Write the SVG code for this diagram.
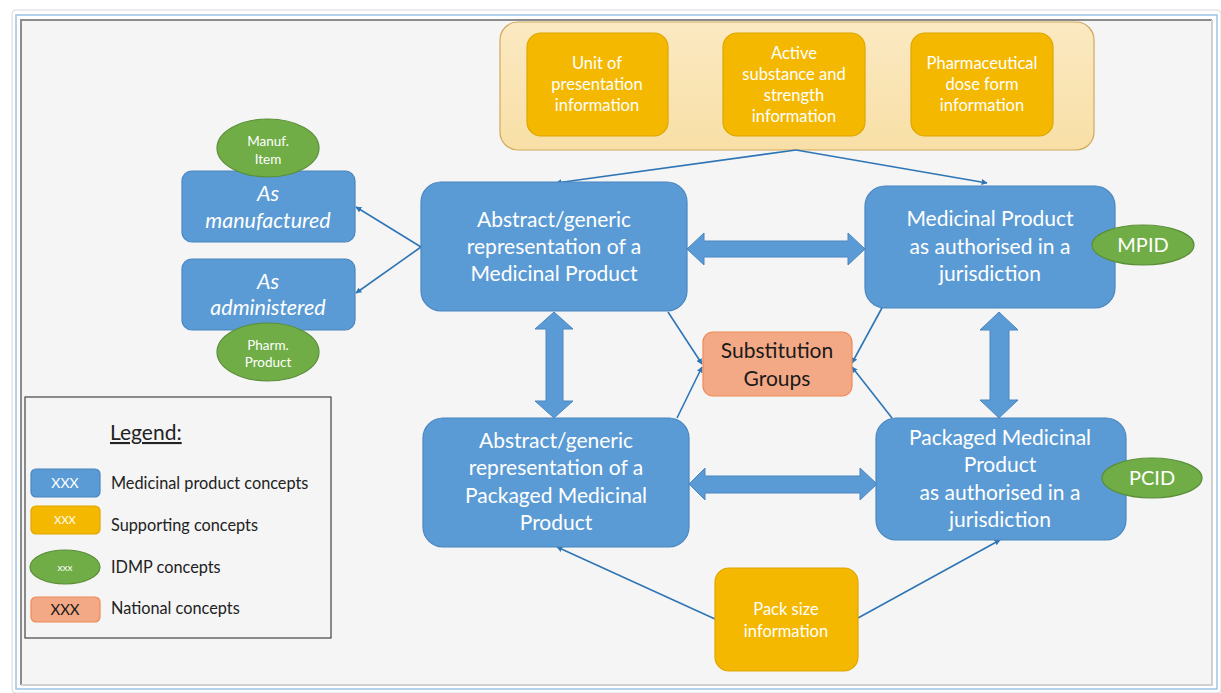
<svg xmlns="http://www.w3.org/2000/svg" width="1221" height="693" viewBox="0 0 1221 693">
<style>
text{font-family:Lato,"Open Sans","Liberation Sans",sans-serif;text-anchor:middle;fill:#fff}
.blue{fill:#5b9bd5;stroke:#4a86c0;stroke-width:1.2}
.yel{fill:#f5b800;stroke:#dea600;stroke-width:1.2}
.grn{fill:#70ad47;stroke:#5a8f38;stroke-width:1.2}
.sal{fill:#f4a986;stroke:#ee8a55;stroke-width:1.2}
.big{font-size:21px}
.it{font-size:21.5px;font-style:italic}
.mid{font-size:16.5px}
.sm{font-size:13.5px}
.conn{stroke:#2e75b6;stroke-width:1.6;fill:none;marker-end:url(#ah)}
.blk{fill:#5b9bd5;stroke:#4a86c0;stroke-width:1}
.lg{fill:#222;text-anchor:start;font-size:16.3px}
</style>
<defs>
<marker id="ah" viewBox="0 0 10 10" refX="9" refY="5" markerWidth="6" markerHeight="6" markerUnits="userSpaceOnUse" orient="auto">
<path d="M0,0 L10,5 L0,10 z" fill="#2e75b6"/>
</marker>
<linearGradient id="tan" x1="0" y1="0" x2="0" y2="1">
<stop offset="0" stop-color="#fbe9c2"/>
<stop offset="1" stop-color="#f8dfa6"/>
</linearGradient>
</defs>
<g id="frame">
<rect x="0" y="0" width="1221" height="693" fill="#ffffff"/>
<rect x="12" y="10" width="1209" height="683" rx="4" fill="#ffffff" stroke="#d8d8d8" stroke-width="1"/>
<rect x="16" y="15" width="1201" height="674" fill="none" stroke="#9dc3e6" stroke-width="1.5"/>
<rect x="21" y="20" width="1191" height="665" fill="#f5f5f5"/>
<path d="M21,685 L21,20 L1212,20" fill="none" stroke="#8c8c8c" stroke-width="2"/>
<path d="M1212,20 L1212,685 L21,685" fill="none" stroke="#d0d0d0" stroke-width="2"/>
</g>
<g id="supporting-group">
<rect x="500" y="22" width="594" height="128" rx="18" fill="url(#tan)" stroke="#cfa95c" stroke-width="1.2"/>
</g>
<g id="unit-of-presentation">
<rect class="yel" x="527" y="33" width="141" height="103" rx="14"/>
<text class="mid" x="597" y="69">Unit of</text>
<text class="mid" x="597" y="90">presentation</text>
<text class="mid" x="597" y="111">information</text>
</g>
<g id="active-substance">
<rect class="yel" x="723" y="33" width="142" height="103" rx="14"/>
<text class="mid" x="794" y="59">Active</text>
<text class="mid" x="794" y="80">substance and</text>
<text class="mid" x="794" y="101">strength</text>
<text class="mid" x="794" y="122">information</text>
</g>
<g id="dose-form">
<rect class="yel" x="911" y="33" width="142" height="103" rx="14"/>
<text class="mid" x="982" y="69">Pharmaceutical</text>
<text class="mid" x="982" y="90">dose form</text>
<text class="mid" x="982" y="111">information</text>
</g>
<g id="connectors">
<line class="conn" x1="796" y1="150" x2="556" y2="183"/>
<line class="conn" x1="796" y1="150" x2="987" y2="183"/>
<line class="conn" x1="421" y1="247" x2="356" y2="207"/>
<line class="conn" x1="421" y1="247" x2="356" y2="293"/>
<line class="conn" x1="668" y1="312" x2="702" y2="364"/>
<line class="conn" x1="677" y1="418" x2="702" y2="367"/>
<line class="conn" x1="883" y1="306" x2="852" y2="363"/>
<line class="conn" x1="892" y1="418" x2="852" y2="367"/>
<line class="conn" x1="715" y1="619" x2="557" y2="547"/>
<line class="conn" x1="858" y1="618" x2="1000" y2="540"/>
<path class="blk" d="M687,249 L704,233 L704,241 L848,241 L848,233 L865,249 L848,265 L848,257 L704,257 L704,265 Z"/>
<path class="blk" d="M689,484 L705,468 L705,476 L860,476 L860,468 L877,484 L860,500 L860,493 L705,493 L705,500 Z"/>
<path class="blk" d="M554,312 L573,329 L563,329 L563,401 L573,401 L554,418 L535,401 L546,401 L546,329 L535,329 Z"/>
<path class="blk" d="M999,312 L1018,330 L1009,330 L1009,400 L1018,400 L999,418 L980,400 L990,400 L990,330 L980,330 Z"/>
</g>
<g id="as-manufactured">
<rect class="blue" x="182" y="171" width="173" height="71" rx="10"/>
<text class="it" x="268" y="201">As</text>
<text class="it" x="268" y="228">manufactured</text>
</g>
<g id="manuf-item">
<ellipse class="grn" cx="268" cy="148" rx="51" ry="29"/>
<text class="sm" x="268" y="146">Manuf.</text>
<text class="sm" x="268" y="164">Item</text>
</g>
<g id="as-administered">
<rect class="blue" x="182" y="259" width="173" height="71" rx="10"/>
<text class="it" x="268" y="289">As</text>
<text class="it" x="268" y="315">administered</text>
</g>
<g id="pharm-product">
<ellipse class="grn" cx="268" cy="352" rx="51" ry="29"/>
<text class="sm" x="268" y="350">Pharm.</text>
<text class="sm" x="268" y="367">Product</text>
</g>
<g id="abstract-mp">
<rect class="blue" x="421" y="182" width="266" height="129" rx="20"/>
<text class="big" x="554" y="227">Abstract/generic</text>
<text class="big" x="554" y="254">representation of a</text>
<text class="big" x="554" y="281">Medicinal Product</text>
</g>
<g id="authorised-mp">
<rect class="blue" x="865" y="186" width="250" height="122" rx="20"/>
<text class="big" x="990" y="226">Medicinal Product</text>
<text class="big" x="990" y="254">as authorised in a</text>
<text class="big" x="990" y="281">jurisdiction</text>
</g>
<g id="mpid">
<ellipse class="grn" cx="1143" cy="245" rx="51" ry="20"/>
<text class="big" x="1143" y="252" style="font-size:20px">MPID</text>
</g>
<g id="substitution-groups">
<rect class="sal" x="703" y="332" width="149" height="64" rx="10"/>
<text class="big" x="777" y="358" style="fill:#1a1a1a">Substitution</text>
<text class="big" x="777" y="386" style="fill:#1a1a1a">Groups</text>
</g>
<g id="abstract-pmp">
<rect class="blue" x="423" y="418" width="266" height="129" rx="20"/>
<text class="big" x="556" y="448">Abstract/generic</text>
<text class="big" x="556" y="475">representation of a</text>
<text class="big" x="556" y="503">Packaged Medicinal</text>
<text class="big" x="556" y="530">Product</text>
</g>
<g id="authorised-pmp">
<rect class="blue" x="876" y="418" width="250" height="122" rx="20"/>
<text class="big" x="1000" y="445">Packaged Medicinal</text>
<text class="big" x="1000" y="472">Product</text>
<text class="big" x="1000" y="500">as authorised in a</text>
<text class="big" x="1000" y="527">jurisdiction</text>
</g>
<g id="pcid">
<ellipse class="grn" cx="1152" cy="478" rx="50" ry="20"/>
<text class="big" x="1152" y="485" style="font-size:20px">PCID</text>
</g>
<g id="pack-size">
<rect class="yel" x="715" y="568" width="143" height="103" rx="14"/>
<text class="mid" x="786" y="615">Pack size</text>
<text class="mid" x="786" y="637">information</text>
</g>
<g id="legend">
<rect x="25" y="397" width="306" height="241" fill="#f5f5f5" stroke="#444" stroke-width="1.2"/>
<text x="110" y="440" style="fill:#222;text-anchor:start;font-size:21px;text-decoration:underline">Legend:</text>
<rect class="blue" x="31" y="469" width="69" height="28" rx="5"/>
<text x="65" y="488" style="font-size:14px">XXX</text>
<text class="lg" x="111" y="489">Medicinal product concepts</text>
<rect class="yel" x="31" y="506" width="69" height="28" rx="5"/>
<text x="65" y="524" style="font-size:11px">XXX</text>
<text class="lg" x="111" y="531">Supporting concepts</text>
<ellipse class="grn" cx="65" cy="567" rx="35" ry="17"/>
<text x="65" y="571" style="font-size:10px">xxx</text>
<text class="lg" x="111" y="573">IDMP concepts</text>
<rect class="sal" x="31" y="597" width="69" height="25" rx="5"/>
<text x="65" y="615" style="font-size:15px;fill:#1a1a1a">XXX</text>
<text class="lg" x="111" y="614">National concepts</text>
</g>
</svg>
